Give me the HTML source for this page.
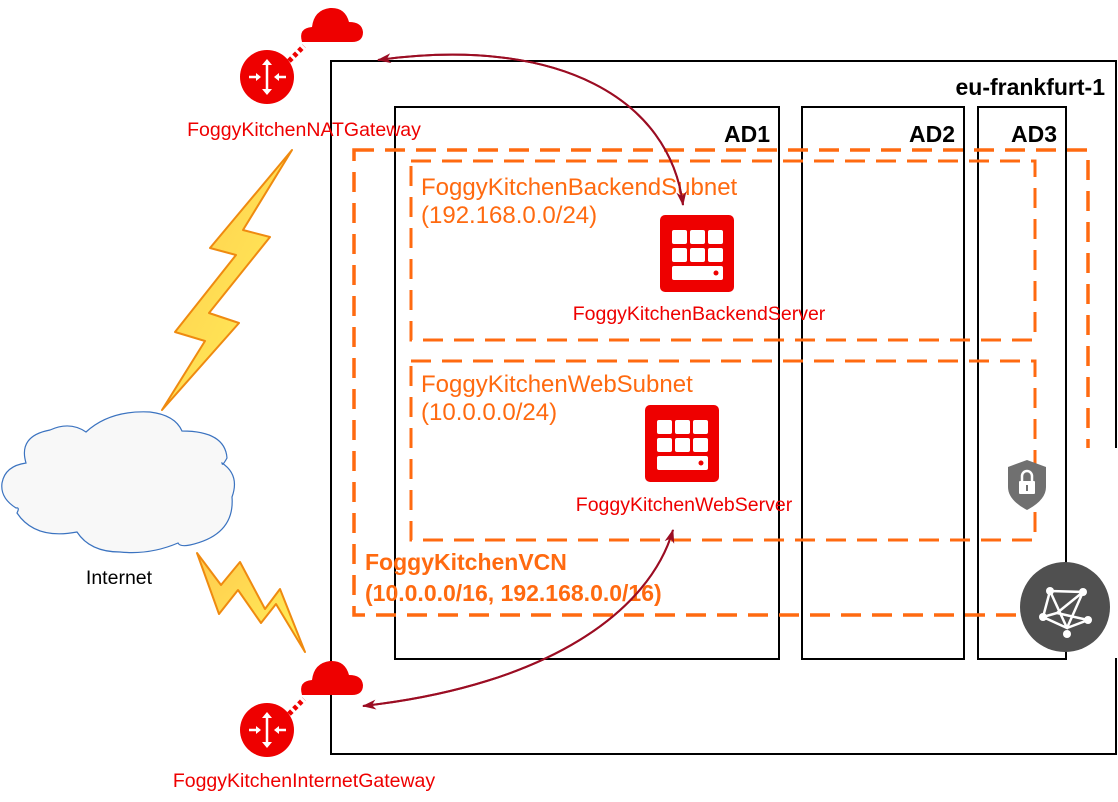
<!DOCTYPE html>
<html><head><meta charset="utf-8"><style>
html,body{margin:0;padding:0;background:#fff;}
svg{display:block;font-family:"Liberation Sans",sans-serif;}
</style></head><body>
<svg width="1118" height="802" viewBox="0 0 1118 802" xmlns="http://www.w3.org/2000/svg">
<defs>
<linearGradient id="lg" x1="0" y1="0" x2="1" y2="1"><stop offset="0" stop-color="#ffc94d"/><stop offset="1" stop-color="#fff25a"/></linearGradient>
<marker id="ah" markerWidth="14" markerHeight="10" refX="13" refY="5" orient="auto" markerUnits="userSpaceOnUse"><path d="M0,0 L14,5 L0,10 L4,5 Z" fill="#9b0d23"/></marker>
</defs>
<rect x="331" y="61" width="785" height="693" fill="none" stroke="#000" stroke-width="2"/>
<text x="1105" y="95" text-anchor="end" font-size="23" font-weight="bold">eu-frankfurt-1</text>
<rect x="395" y="107" width="384" height="552" fill="none" stroke="#000" stroke-width="2"/>
<rect x="802" y="107" width="162" height="552" fill="none" stroke="#000" stroke-width="2"/>
<rect x="978" y="107" width="88" height="552" fill="none" stroke="#000" stroke-width="2"/>
<text x="770" y="142" text-anchor="end" font-size="23" font-weight="bold">AD1</text>
<text x="955" y="142" text-anchor="end" font-size="23" font-weight="bold">AD2</text>
<text x="1057" y="142" text-anchor="end" font-size="23" font-weight="bold">AD3</text>
<rect x="354" y="150" width="734" height="465" fill="none" stroke="#ff6a10" stroke-width="3.5" stroke-dasharray="20,11"/>
<rect x="411" y="161" width="624" height="179" fill="none" stroke="#ff6a10" stroke-width="3" stroke-dasharray="20,11"/>
<rect x="411" y="361" width="624" height="179" fill="none" stroke="#ff6a10" stroke-width="3" stroke-dasharray="20,11"/>
<g fill="#ff6a10" font-size="24">
<text x="421" y="195">FoggyKitchenBackendSubnet</text>
<text x="421" y="223">(192.168.0.0/24)</text>
<text x="421" y="392">FoggyKitchenWebSubnet</text>
<text x="421" y="420">(10.0.0.0/24)</text>
<text x="365" y="570" font-weight="bold" font-size="23">FoggyKitchenVCN</text>
<text x="365" y="601" font-weight="bold" font-size="23">(10.0.0.0/16, 192.168.0.0/16)</text>
</g>
<g id="srv">
<rect x="660" y="215" width="74" height="77" rx="5" fill="#ee0000"/>
<g fill="#fff"><rect x="672" y="230" width="15" height="14" rx="2"/><rect x="690" y="230" width="15" height="14" rx="2"/><rect x="708" y="230" width="15" height="14" rx="2"/>
<rect x="672" y="248" width="15" height="14" rx="2"/><rect x="690" y="248" width="15" height="14" rx="2"/><rect x="708" y="248" width="15" height="14" rx="2"/>
<rect x="672" y="266" width="51" height="14" rx="2"/></g><circle cx="716" cy="273" r="2.5" fill="#ee0000"/>
</g>
<use href="#srv" transform="translate(-15,190)"/>
<g fill="#ee0000" font-size="19.5">
<text x="699" y="320" text-anchor="middle">FoggyKitchenBackendServer</text>
<text x="684" y="511" text-anchor="middle">FoggyKitchenWebServer</text>
</g>
<path d="M1027,460 L1046,467 L1046,487 Q1046,500 1027,510 Q1008,500 1008,487 L1008,467 Z" fill="#707070"/>
<rect x="1019" y="481" width="16" height="13" rx="1" fill="#fff"/>
<path d="M1022,481 v-5 a5,5 0 0 1 10,0 v5" fill="none" stroke="#fff" stroke-width="2.5"/>
<rect x="1026" y="485" width="2" height="6" fill="#707070"/>
<rect x="1067" y="448" width="51" height="210" fill="#fff"/>
<circle cx="1065" cy="607" r="45" fill="#505050"/>
<g stroke="#fff" stroke-width="2.5" fill="none"><path d="M1050,591 L1083,592 L1067,628 L1043,617 Z M1050,591 L1067,628 M1083,592 L1057,613 L1043,617 M1057,613 L1088,620 L1067,628"/></g>
<g fill="#fff"><circle cx="1050" cy="591" r="4"/><circle cx="1083" cy="592" r="4"/><circle cx="1043" cy="617" r="4"/><circle cx="1088" cy="620" r="4"/><circle cx="1067" cy="634" r="4"/></g>
<path d="M302,42 Q298,28 312,27 Q314,10 330,8 Q345,7 349,22 Q362,22 363,32 Q363,42 352,42 Z" fill="#ee0000"/>
<path d="M289,61 L304,46" stroke="#ee0000" stroke-width="5" stroke-dasharray="4,3"/>
<circle cx="267" cy="77" r="27" fill="#ee0000"/>
<g stroke="#fff" stroke-width="2.5"><path d="M267,62 v30 M249,77 h10 M276,77 h10"/></g>
<g fill="#fff"><path d="M267,59 l-5,6 h10z M267,95 l-5,-6 h10z M261,77 l-5,-4 v8z M274,77 l5,-4 v8z"/></g>
<text x="304" y="136" text-anchor="middle" fill="#ee0000" font-size="19.5">FoggyKitchenNATGateway</text>
<path d="M302,695 Q298,681 312,680 Q314,663 330,661 Q345,660 349,675 Q362,675 363,685 Q363,695 352,695 Z" fill="#ee0000"/>
<path d="M289,714 L304,699" stroke="#ee0000" stroke-width="5" stroke-dasharray="4,3"/>
<circle cx="267" cy="730" r="27" fill="#ee0000"/>
<g stroke="#fff" stroke-width="2.5"><path d="M267,715 v30 M249,730 h10 M276,730 h10"/></g>
<g fill="#fff"><path d="M267,712 l-5,6 h10z M267,748 l-5,-6 h10z M261,730 l-5,-4 v8z M274,730 l5,-4 v8z"/></g>
<text x="304" y="787" text-anchor="middle" fill="#ee0000" font-size="19.5">FoggyKitchenInternetGateway</text>
<path d="M26,463 Q18,436 50,430 Q70,421 86,432 Q110,410 150,412 Q175,415 182,431 Q225,431 227,458 Q222,467 222,463 Q240,475 232,497 Q235,535 190,545 Q180,547 178,543 Q150,555 120,552 Q90,552 77,532 Q35,540 17,513 Q20,507 16,508 Q0,498 2,483 Q5,466 26,463 Z" fill="#f8f8f8" stroke="#3b73c0" stroke-width="1.2"/>
<text x="119" y="584" text-anchor="middle" font-size="19.5">Internet</text>
<path d="M292,150 L210,248 L236,255 L175,332 L205,341 L162,410 L239,323 L209,313 L270,237 L243,230 Z" fill="url(#lg)" stroke="#ef8a10" stroke-width="2" stroke-linejoin="round"/>
<path d="M197,553 L219,614 L238,590 L261,623 L276,604 L305,652 L280,589 L265,609 L240,562 L221,585 Z" fill="url(#lg)" stroke="#ef8a10" stroke-width="2" stroke-linejoin="round"/>
<path d="M683,205 C670,100 560,35 378,60" fill="none" stroke="#9b0d23" stroke-width="2" marker-end="url(#ah)" marker-start="url(#ahs)"/>
<path d="M378,60 C560,35 670,100 683,205" fill="none" stroke="#9b0d23" stroke-width="2" marker-end="url(#ah)"/>
<path d="M673,530 C650,610 550,685 363,706" fill="none" stroke="#9b0d23" stroke-width="2" marker-end="url(#ah)"/>
<path d="M363,706 C550,685 650,610 673,530" fill="none" stroke="#9b0d23" stroke-width="2" marker-end="url(#ah)"/>
</svg>
</body></html>
